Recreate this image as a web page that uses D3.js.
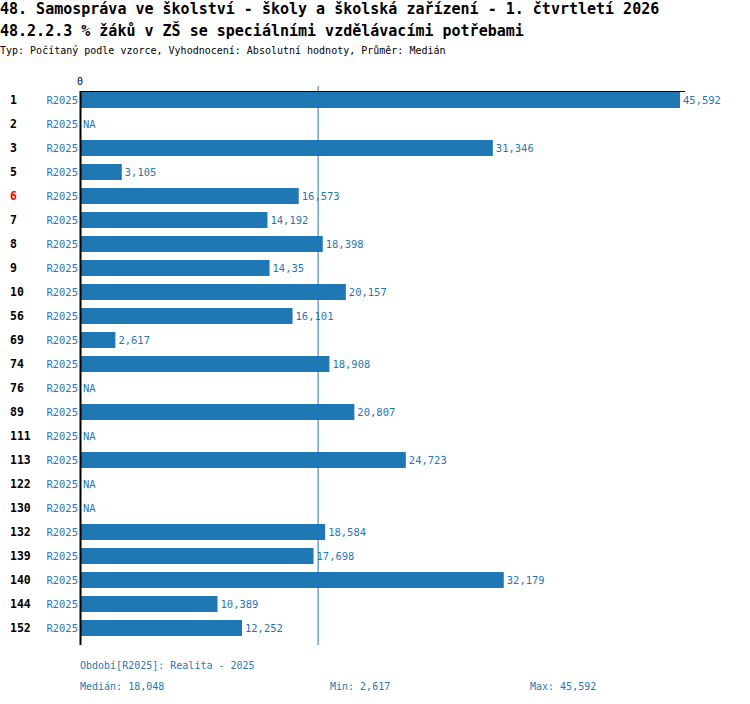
<!DOCTYPE html>
<html>
<head>
<meta charset="utf-8">
<script src="https://cdn.jsdelivr.net/npm/d3@7"></script>
<style>
  body { margin: 0; background: #fff; }
  text { font-family: "DejaVu Sans Mono", monospace; }
</style>
</head>
<body>
<div id="chart"></div>
<script>
  const categories = ["1", "2", "3", "5", "6", "7", "8", "9", "10", "56", "69", "74", "76", "89", "111", "113", "122", "130", "132", "139", "140", "144", "152"];
  const values = [45.592, null, 31.346, 3.105, 16.573, 14.192, 18.398, 14.35, 20.157, 16.101, 2.617, 18.908, null, 20.807, null, 24.723, null, null, 18.584, 17.698, 32.179, 10.389, 12.252];
  const periods = ["R2025"];
  const highlighted = ["6"];

  const blue = "#1f77b4";
  const fmt = v => String(v).replace(".", ",");

  const data = categories.map((c, i) => ({ cat: c, value: values[i] }));
  const known = values.filter(v => v != null);
  const median = d3.median(known),
    minV = d3.min(known),
    maxV = d3.max(known);

  const svg = d3.select("#chart")
    .append("svg")
    .attr("width", 750)
    .attr("height", 704);

  svg.append("text")
    .attr("x", 0).attr("y", 14)
    .style("font-size", "15px").style("font-weight", "bold")
    .text("48. Samospráva ve školství - školy a školská zařízení - 1. čtvrtletí 2026");

  svg.append("text")
    .attr("x", 0).attr("y", 36)
    .style("font-size", "15px").style("font-weight", "bold")
    .text("48.2.2.3 % žáků v ZŠ se speciálními vzdělávacími potřebami");

  svg.append("text")
    .attr("x", 0).attr("y", 54)
    .style("font-size", "10px")
    .text("Typ: Počítaný podle vzorce, Vyhodnocení: Absolutní hodnoty, Průměr: Medián");

  const x = d3.scaleLinear()
    .domain([0, maxV])
    .range([81, 680]);

  const y = d3.scaleBand()
    .domain(categories)
    .range([88, 640])
    .paddingInner(1 / 3)
    .paddingOuter(1 / 6);

  // tick 0
  svg.append("text")
    .attr("x", x(0) - 1).attr("y", 85)
    .attr("text-anchor", "middle")
    .style("font-size", "10px")
    .text("0");

  // median line (behind bars)
  svg.append("line")
    .attr("x1", x(median)).attr("x2", x(median))
    .attr("y1", 86).attr("y2", 645)
    .attr("stroke", blue).attr("stroke-width", 1);

  // bars
  svg.selectAll(".bar")
    .data(data.filter(d => d.value != null))
    .enter()
    .append("rect")
    .attr("class", "bar")
    .attr("x", x(0))
    .attr("y", d => y(d.cat))
    .attr("width", d => x(d.value) - x(0))
    .attr("height", y.bandwidth())
    .attr("fill", blue);

  // axes
  svg.append("line")
    .attr("x1", 80).attr("x2", 685)
    .attr("y1", 91.5).attr("y2", 91.5)
    .attr("stroke", "#000").attr("stroke-width", 1);

  svg.append("line")
    .attr("x1", 80.5).attr("x2", 80.5)
    .attr("y1", 91).attr("y2", 645)
    .attr("stroke", "#000").attr("stroke-width", 2);

  const rows = svg.selectAll(".row")
    .data(data)
    .enter()
    .append("g")
    .attr("class", "row")
    .attr("transform", d => `translate(0, ${y(d.cat) + y.bandwidth() / 2})`);

  rows.append("text")
    .attr("x", 10).attr("dy", "0.35em")
    .style("font-size", "11.5px").style("font-weight", "bold")
    .attr("fill", d => highlighted.includes(d.cat) ? "#ff0000" : "#000")
    .text(d => d.cat);

  rows.append("text")
    .attr("x", 78).attr("dy", "0.35em")
    .attr("text-anchor", "end")
    .style("font-size", "10.5px")
    .attr("fill", blue)
    .text(periods[0]);

  rows.append("text")
    .attr("x", d => d.value == null ? 83 : x(d.value) + 3)
    .attr("dy", "0.35em")
    .style("font-size", "10.5px")
    .attr("fill", blue)
    .text(d => d.value == null ? "NA" : fmt(d.value));

  // footer
  const foot = svg.append("g")
    .style("font-size", "10px")
    .attr("fill", blue);

  foot.append("text").attr("x", 80).attr("y", 669)
    .text("Období[R2025]: Realita - 2025");
  foot.append("text").attr("x", 80).attr("y", 690)
    .text("Medián: " + fmt(median.toFixed(3)));
  foot.append("text").attr("x", 330).attr("y", 690)
    .text("Min: " + fmt(minV));
  foot.append("text").attr("x", 530).attr("y", 690)
    .text("Max: " + fmt(maxV));
</script>
</body>
</html>
